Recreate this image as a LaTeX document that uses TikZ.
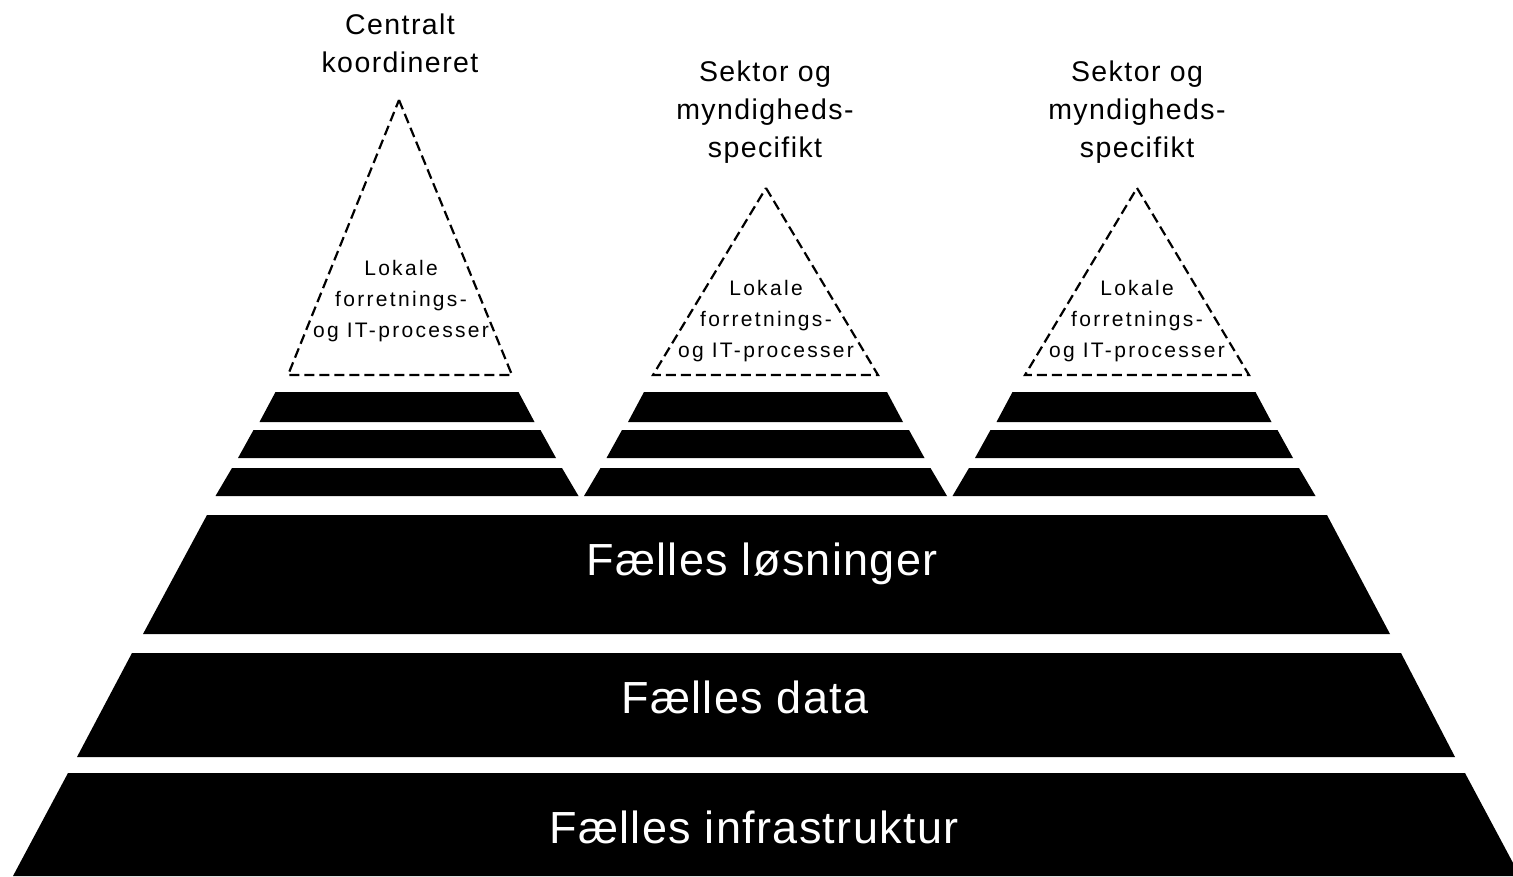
\documentclass[tikz,border=0pt]{standalone}
\usepackage{fontspec}
\setmainfont{Liberation Sans}
\newfontfamily\labfont[LetterSpace=5]{Liberation Sans}
\newfontfamily\lokfont[LetterSpace=11]{Liberation Sans}
\newfontfamily\bandfont[LetterSpace=3]{Liberation Sans}
\begin{document}
\begin{tikzpicture}[x=1pt,y=-1pt,
  band/.style={fill=black,draw=none},
  peak/.style={draw=black,line width=2.2pt,dash pattern=on 10pt off 5pt,line join=miter},
  toplabel/.style={anchor=north,inner sep=0pt,align=center,font=\labfont\fontsize{28.5}{38}\selectfont},
  loklabel/.style={anchor=north,inner sep=0pt,align=center,font=\lokfont\fontsize{21}{31}\selectfont},
  bandlabel/.style={anchor=base,inner sep=0pt,text=white,font=\bandfont\fontsize{45}{54}\selectfont}]
\useasboundingbox (0,0) rectangle (1513,876);
\fill[white] (0,0) rectangle (1513,876);
% large bands
\fill[band] (207,515) -- (1327,515) -- (1390,634) -- (143,634) -- cycle;
\fill[band] (132,653) -- (1401,653) -- (1455,757) -- (77,757) -- cycle;
\fill[band] (68,773) -- (1465,773) -- (1520,876) -- (13,876) -- cycle;
% small stripes
\foreach \c in {397,765.5,1134}{
  \fill[band] (\c-121.5,392) -- (\c+121.5,392) -- (\c+137.5,422) -- (\c-137.5,422) -- cycle;
  \fill[band] (\c-143.5,430) -- (\c+143.5,430) -- (\c+159,458) -- (\c-159,458) -- cycle;
  \fill[band] (\c-165,468) -- (\c+165,468) -- (\c+181.5,496) -- (\c-181.5,496) -- cycle;
}
% dashed peaks
\draw[peak] (399,100) -- (512,375) -- (288,375) -- cycle;
\draw[peak] (766,188) -- (878,375) -- (653,375) -- cycle;
\draw[peak] (1137,188) -- (1249,375) -- (1025,375) -- cycle;
% labels
\node[toplabel] (t1) at (400,14) {Centralt\\koordineret};
\node[toplabel] (t2) at (765,61) {Sektor og\\myndigheds-\\specifikt};
\node[toplabel] (t3) at (1137,61) {Sektor og\\myndigheds-\\specifikt};
\node[loklabel] (l1) at (401,260) {Lokale\\forretnings-\\og IT-processer};
\node[loklabel] (l2) at (766,280) {Lokale\\forretnings-\\og IT-processer};
\node[loklabel] (l3) at (1137,280) {Lokale\\forretnings-\\og IT-processer};
\node[bandlabel] (b1) at (762,575) {Fælles løsninger};
\node[bandlabel] (b2) at (745,713) {Fælles data};
\node[bandlabel] (b3) at (754,843) {Fælles infrastruktur};
\end{tikzpicture}
\end{document}
